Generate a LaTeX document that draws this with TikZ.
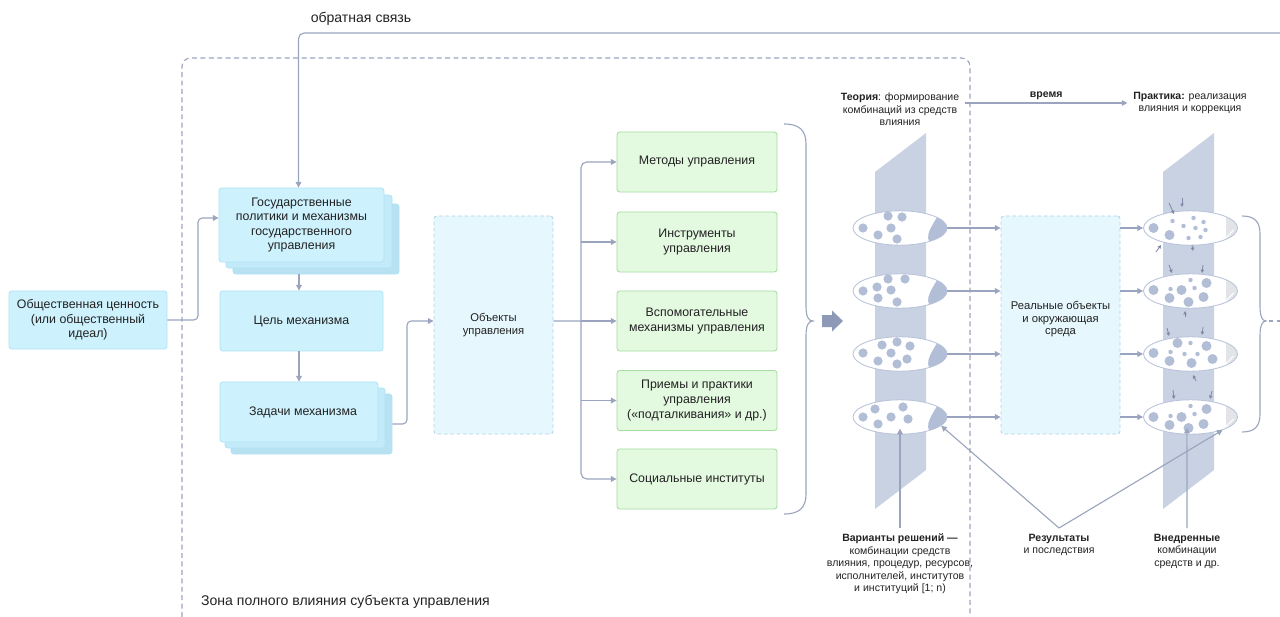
\documentclass[tikz,border=0pt]{standalone}
\usepackage{fontspec}
\setmainfont{Liberation Sans}
\usetikzlibrary{shapes,arrows.meta,positioning,calc}

\definecolor{linecol}{HTML}{9AA4BE}
\definecolor{tickcol}{HTML}{7F8AA8}
\definecolor{bluefill}{HTML}{CDF1FD}
\definecolor{blueedge}{HTML}{B0E3F5}
\definecolor{blueback}{HTML}{C2EAF8}
\definecolor{bluebackk}{HTML}{B8E1F1}
\definecolor{greenfill}{HTML}{E3F9E0}
\definecolor{greenedge}{HTML}{A6DCA0}
\definecolor{dashfill}{HTML}{E6F7FD}
\definecolor{dashedge}{HTML}{AFD4E6}
\definecolor{bandcol}{HTML}{C9D2E2}
\definecolor{dotcol}{HTML}{B2BDD6}
\definecolor{lenscol}{HTML}{B9C3D9}
\definecolor{fatcol}{HTML}{8D99B6}
\definecolor{cresgrey}{HTML}{E3E4E8}
\definecolor{inkcol}{HTML}{222222}

\begin{document}
\begin{tikzpicture}[x=0.025cm, y=-0.025cm,
    every node/.style={text=inkcol, font=\fontsize{8.8}{10.4}\selectfont, align=center},
    box/.style={rectangle, rounded corners=2pt, line width=0.6pt, inner sep=2pt},
    bluebox/.style={box, fill=bluefill, draw=blueedge},
    greenbox/.style={box, fill=greenfill, draw=greenedge, minimum width=4cm, minimum height=1.5cm},
    dashbox/.style={box, fill=dashfill, draw=dashedge, dash pattern=on 2.5pt off 2pt,
        minimum width=2.975cm, minimum height=5.45cm, font=\fontsize{8}{9}\selectfont},
    note/.style={font=\fontsize{7.5}{8.9}\selectfont, inner sep=4pt},
    label/.style={font=\fontsize{10}{12}\selectfont, inner sep=2pt},
    conn/.style={draw=linecol, line width=0.8pt},
    arr/.style={conn, -{Triangle[length=4pt,width=4pt]}},
    tick/.style={draw=tickcol, line width=0.6pt, -{Triangle[length=2.4pt,width=2.4pt]}},
    lens/.style={ellipse, draw=lenscol, fill=white, line width=0.6pt,
        minimum width=2.35cm, minimum height=0.86cm, inner sep=0pt},
    leftlens/.style={lens, path picture={
        \fill[dotcol] ([xshift=-0.1cm,yshift=0.075cm]path picture bounding box.north east)
          .. controls ([xshift=-0.55cm,yshift=-0.2cm]path picture bounding box.east)
          .. ([xshift=-0.325cm,yshift=-0.125cm]path picture bounding box.south east)
          -- ([xshift=0.2cm,yshift=-0.2cm]path picture bounding box.south east)
          -- ([xshift=0.2cm,yshift=0.2cm]path picture bounding box.north east) -- cycle;}},
    rightlens/.style={lens, path picture={
        \fill[cresgrey] ([xshift=-0.3cm]path picture bounding box.north east)
          rectangle (path picture bounding box.south east);
        \draw[white, line width=0.7pt] ([xshift=-0.32cm,yshift=0.15cm]path picture bounding box.south east)
          -- ([xshift=-0.1cm,yshift=-0.05cm]path picture bounding box.east);}},
    dot/.style={fill=dotcol}
]
    \useasboundingbox (0,0) rectangle (1280,617);

    % Zone of full influence
    \draw[conn, dash pattern=on 3.5pt off 2.5pt, rounded corners=6pt]
        (182,617) -- (182,58) -- (970,58) -- (970,617);
    \node[label, anchor=west] (zone) at (198,602) {Зона полного влияния субъекта управления};

    % Feedback
    \node[label] (fblabel) at (361,19) {обратная связь};

    % Value and mechanism
    \node[bluebox, minimum width=3.95cm, minimum height=1.45cm] (obsh) at (88,320)
        {Общественная ценность\\(или общественный\\идеал)};
    \node[box, fill=bluebackk, draw=blueedge, minimum width=4.15cm, minimum height=1.75cm] (gosC) at (316,239) {};
    \node[box, fill=blueback, draw=blueedge, minimum width=4.15cm, minimum height=1.825cm] (gosB) at (309,231.5) {};
    \node[bluebox, minimum width=4.125cm, minimum height=1.85cm] (gos) at (301.5,225)
        {Государственные\\политики и механизмы\\государственного\\управления};
    \node[bluebox, minimum width=4.075cm, minimum height=1.5cm] (tsel) at (301.5,321) {Цель механизма};
    \node[box, fill=bluebackk, draw=blueedge, minimum width=4.025cm, minimum height=1.5cm] (zadC) at (311.5,424) {};
    \node[box, fill=blueback, draw=blueedge, minimum width=4cm, minimum height=1.5cm] (zadB) at (305,418) {};
    \node[bluebox, minimum width=3.95cm, minimum height=1.5cm] (zad) at (299,412) {\hspace*{0.2cm}Задачи механизма};

    % Objects and means
    \node[dashbox] (obj) at (493.5,325) {Объекты\\управления};
    \node[greenbox] (m1) at (697,162) {Методы управления};
    \node[greenbox] (m2) at (697,242) {Инструменты\\управления};
    \node[greenbox] (m3) at (697,321) {Вспомогательные\\механизмы управления};
    \node[greenbox] (m4) at (697,400.5) {Приемы и практики\\управления\\(«подталкивания» и др.)};
    \node[greenbox] (m5) at (697,479) {Социальные институты};

    % Connectors
    \coordinate (fbend) at (1280,33);
    \draw[arr, rounded corners=4pt] (fbend) -| ([xshift=-0.075cm]gos.north);
    \draw[arr, rounded corners=3pt] (obsh.east) -- (198,320) |- ([yshift=0.175cm]gos.west);
    \draw[arr] (gosC.south -| zad.north) -- (tsel.north -| zad.north);
    \draw[arr] (tsel.south -| zad.north) -- (zad.north);
    \draw[arr, rounded corners=3pt] (zadC.east) -- (407,424) |- ([yshift=0.1cm]obj.west);
    \coordinate (split) at (581,321);
    \draw[conn] ([yshift=0.1cm]obj.east) -- (split);
    \draw[arr, rounded corners=4pt] (split) |- (m1.west);
    \draw[arr, rounded corners=4pt] (split) |- (m5.west);
    \foreach \m in {m2,m3,m4} \draw[arr] (split |- \m.west) -- (\m.west);

    % Brace and block arrow
    \draw[conn] (784,124) .. controls (799,124) and (806,130) .. (806,144) -- (806,306)
        .. controls (806,316) and (808,321) .. (813,321)
        .. controls (808,321) and (806,326) .. (806,336) -- (806,494)
        .. controls (806,508) and (799,514) .. (784,514);
    \fill[fatcol] (822,315) -- (832,315) -- (832,310.5) -- (843,321) -- (832,331.5) -- (832,327) -- (822,327) -- cycle;

    % Theory and practice bands
    \fill[bandcol] (875,172) -- (926,133) -- (926,470) -- (875,509) -- cycle;
    \fill[bandcol] (1163,172) -- (1214,133) -- (1214,470) -- (1163,509) -- cycle;
    \node[note] (theory) at (900,109.5) {\textbf{Теория}: формирование\\комбинаций из средств\\влияния};
    \node[note] (practice) at (1190,103) {\textbf{Практика:} реализация\\влияния и коррекция};
    \draw[arr] (practice.west -| theory.east) -- (practice.west)
        node[midway, above, note, inner sep=2pt] {\textbf{время}};

    \node[dashbox] (real) at (1060.5,325) {Реальные объекты\\и окружающая\\среда\\[0.03cm]};

    % Combinations
    \foreach \n/\y in {1/228,2/291,3/354,4/417} {
        \node[leftlens] (v\n) at (900,\y) {};
        \node[rightlens] (w\n) at (1190.5,\y) {};
        \draw[arr] (v\n.east) -- (v\n.east -| real.west);
        \draw[arr] (w\n.west -| real.east) -- (w\n.west);
    }
    \foreach \p in {(-37,0),(-12,-12),(2,-11),(-9,0),(-22,7),(-3,11)}
        \fill[dot, shift={(v1.center)}] \p circle (0.115cm);
    \foreach \p in {(-37,0),(-12,-12),(5,-12),(-23,-4),(-9,-1),(-22,7),(-3,11)}
        \fill[dot, shift={(v2.center)}] \p circle (0.115cm);
    \foreach \p in {(-37,-1),(-18,-9),(-3,-12),(10,-8),(-9,-1),(-22,7),(-3,10),(7,5)}
        \fill[dot, shift={(v3.center)}] \p circle (0.115cm);
    \foreach \p in {(-37,0),(-25,-8),(3,-10),(-9,0),(-22,7),(8,2)}
        \fill[dot, shift={(v4.center)}] \p circle (0.115cm);

    \foreach \p in {(-37,0),(-21,7)}
        \fill[dot, shift={(w1.center)}] \p circle (0.125cm);
    \foreach \p in {(-18,-7),(-7,-2),(3,-10),(13,-6),(5,0),(15,2),(-2,10),(10,9)}
        \fill[dot, shift={(w1.center)}] \p circle (0.055cm);
    \foreach \p in {(-37,-1),(-21,7),(-9,-1),(16,-8),(-2,11),(13,6)}
        \fill[dot, shift={(w2.center)}] \p circle (0.125cm);
    \foreach \p in {(-20,-2),(0,-11),(4,-3)}
        \fill[dot, shift={(w2.center)}] \p circle (0.055cm);
    \foreach \p in {(-37,-1),(-21,7),(-13,-11),(16,-8),(1,9),(22,5)}
        \fill[dot, shift={(w3.center)}] \p circle (0.125cm);
    \foreach \p in {(-20,-2),(0,-11),(-6,0),(7,0)}
        \fill[dot, shift={(w3.center)}] \p circle (0.055cm);
    \foreach \p in {(-37,0),(-21,8),(-9,0),(16,-8),(-2,11),(13,7)}
        \fill[dot, shift={(w4.center)}] \p circle (0.125cm);
    \foreach \p in {(-20,-1),(0,-11),(4,-3)}
        \fill[dot, shift={(w4.center)}] \p circle (0.055cm);

    % Outside influences
    \foreach \xa/\ya/\xb/\yb in {1169/203/1174/214, 1182/198/1182/207, 1156/252/1161/245,
        1192/245/1193/251, 1169/265/1172/273, 1203/265/1202/273, 1185/317/1185/311,
        1167/328/1169/336, 1203/327/1202/335, 1196/381/1193/375,
        1173/390/1174/399, 1212/391/1210/399}
        \draw[tick] (\xa,\ya) -- (\xb,\yb);

    % Right brace
    \draw[conn] (1242,216) .. controls (1255,216) and (1260,222) .. (1260,234) -- (1260,306)
        .. controls (1260,316) and (1262,321) .. (1266,321)
        .. controls (1262,321) and (1260,326) .. (1260,336) -- (1260,414)
        .. controls (1260,426) and (1255,432) .. (1242,432);
    \coordinate (braceout) at (1280,321);
    \draw[conn, dash pattern=on 3pt off 3pt] (1269,321) -- (braceout);

    % Captions
    \node[note, anchor=north] (variants) at (900,528)
        {\textbf{Варианты решений —}\\комбинации средств\\влияния, процедур, ресурсов,\\исполнителей, институтов\\и институций [1; n)};
    \node[note, anchor=north] (results) at (1059,528) {\textbf{Результаты}\\и последствия};
    \node[note, anchor=north] (impl) at (1187,528) {\textbf{Внедренные}\\комбинации\\средств и др.};
    \draw[arr] (variants.north) -- ([yshift=0.15cm]v4.south);
    \draw[arr] (results.north) -- (v4.-12);
    \draw[arr] (results.north) -- (w4.-22);
    \draw[arr] (impl.north) -- ([xshift=-0.09cm,yshift=0.17cm]w4.south);
\end{tikzpicture}
\end{document}
